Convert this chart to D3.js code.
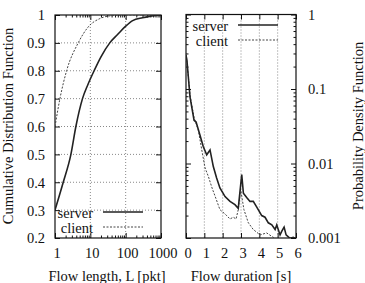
<!DOCTYPE html>
<html>
<head>
<meta charset="utf-8">
<script src="https://cdn.jsdelivr.net/npm/d3@7"></script>
<style>
body { margin: 0; background: #fff; }
text { font-family: "Liberation Serif", "Times New Roman", serif; fill: #111; }
</style>
</head>
<body>
<div id="chart"></div>
<script>
var w = 365, h = 283;
var fs = "14.5px";
var ff = "'Liberation Serif', 'Times New Roman', serif";

// left panel: CDF of flow length
var lenTicks = [1, 10, 100, 1000];
var lenTickLabels = ["1", "10", "100", "1000"];
var cdfTicks = [0.2, 0.3, 0.4, 0.5, 0.6, 0.7, 0.8, 0.9, 1];
var cdfTickLabels = ["0.2", "0.3", "0.4", "0.5", "0.6", "0.7", "0.8", "0.9", "1"];
var serverLen = [1, 1.71, 2.82, 3.9, 6, 8.5, 12.8, 20, 35.5, 59, 100, 158, 300, 472, 1000];
var serverCdf = [0.3, 0.4, 0.5, 0.6, 0.7, 0.75, 0.8, 0.85, 0.9, 0.93, 0.96, 0.98, 0.99, 0.995, 1.0];
var clientLen = [1, 1.38, 2.13, 4.54, 8.7, 18.5, 43, 100, 1000];
var clientCdf = [0.6, 0.7, 0.8, 0.9, 0.957, 0.987, 0.998, 1.0, 1.0];

// right panel: PDF of flow duration
var durTicks = [0, 1, 2, 3, 4, 5, 6];
var durTickLabels = ["0", "1", "2", "3", "4", "5", "6"];
var pdfTicks = [0.001, 0.01, 0.1, 1];
var pdfTickLabels = ["0.001", "0.01", "0.1", "1"];
var serverDur = [0, 0.05, 0.22, 0.44, 0.55, 0.76, 0.94, 1.13, 1.31, 1.49, 1.67, 1.85, 2.13, 2.4, 2.67, 2.85, 3.04, 3.13, 3.31, 3.49, 3.67, 3.86, 4.13, 4.31, 4.49, 4.68, 4.86, 4.95, 5.13, 5.22, 5.35, 5.46, 5.67, 5.85, 6];
var serverPdf = [0.285, 0.245, 0.078, 0.038, 0.036, 0.0242, 0.0169, 0.0131, 0.0152, 0.0091, 0.0064, 0.0047, 0.0036, 0.0031, 0.0028, 0.0025, 0.0071, 0.004, 0.0035, 0.0031, 0.0031, 0.0026, 0.002, 0.0019, 0.0016, 0.0015, 0.0013, 0.0015, 0.0011, 0.00123, 0.0014, 0.0011, 0.00099, 0.00102, 0.00098];
var clientDur = [0, 0.05, 0.22, 0.44, 0.67, 0.86, 1.04, 1.22, 1.42, 1.65, 1.85, 2.13, 2.4, 2.58, 2.73, 2.85, 2.98, 3.16, 3.4, 3.67, 4.04, 4.4, 4.68, 4.86, 5.0];
var clientPdf = [0.3, 0.23, 0.083, 0.041, 0.0283, 0.0152, 0.0087, 0.0067, 0.0047, 0.0033, 0.0024, 0.0021, 0.0018, 0.0019, 0.0018, 0.0024, 0.0045, 0.0024, 0.0016, 0.0013, 0.0011, 0.00117, 0.00105, 0.00099, 0.0009];

var svg = d3.select("#chart")
    .append("svg")
    .attr("width", w)
    .attr("height", h);

var xL = d3.scaleLog().domain([1, 1000]).range([55, 161]);
var yL = d3.scaleLinear().domain([0.2, 1]).range([238, 15]);
var xR = d3.scaleLinear().domain([0, 6]).range([186, 296]);
var yR = d3.scaleLog().domain([0.001, 1]).range([238, 14.5]);

function minorLog(lo, hi) {
    var out = [];
    for (var dec = lo; dec < hi; dec *= 10)
	for (var k = 2; k <= 9; k++) out.push(dec * k);
    return out;
}

function plain(g) {
    g.select(".domain").remove();
    g.selectAll(".tick line").attr("stroke", "#111");
    g.attr("font-family", null).attr("font-size", null);
    g.selectAll(".tick text")
	.style("font-family", ff)
	.style("font-size", fs)
	.attr("fill", "#111");
}

var clip = svg.append("defs");
clip.append("clipPath").attr("id", "clipL").append("rect")
    .attr("x", 55).attr("y", 15).attr("width", 106).attr("height", 223);
clip.append("clipPath").attr("id", "clipR").append("rect")
    .attr("x", 186).attr("y", 14.5).attr("width", 110).attr("height", 223.5);

// grid
var grid = svg.append("g")
    .attr("stroke", "#888")
    .attr("stroke-dasharray", "1,2")
    .attr("stroke-width", 1);
grid.selectAll(".hl").data(cdfTicks.slice(1, -1)).enter().append("line")
    .attr("x1", 55).attr("x2", 161)
    .attr("y1", function(d) { return yL(d); }).attr("y2", function(d) { return yL(d); });
grid.selectAll(".vl").data(lenTicks.slice(1, -1)).enter().append("line")
    .attr("y1", 15).attr("y2", 238)
    .attr("x1", function(d) { return xL(d); }).attr("x2", function(d) { return xL(d); });
grid.selectAll(".vr").data(durTicks.slice(1, -1)).enter().append("line")
    .attr("y1", 14.5).attr("y2", 238)
    .attr("x1", function(d) { return xR(d); }).attr("x2", function(d) { return xR(d); });

// left panel axes
svg.append("g")
    .attr("transform", "translate(0,238)")
    .call(d3.axisBottom(xL).tickValues(lenTicks).tickSize(-5)
	  .tickFormat(function(d, i) { return lenTickLabels[i]; }))
    .call(plain)
    .call(function(g) {
	g.selectAll(".tick text").attr("y", 20).attr("dy", 0).attr("dx", 1.5);
    });
svg.append("g")
    .attr("transform", "translate(0,238)")
    .call(d3.axisBottom(xL).tickValues(minorLog(1, 1000)).tickSize(-2.5).tickFormat(""))
    .call(plain);
svg.append("g")
    .attr("transform", "translate(0,15)")
    .call(d3.axisTop(xL).tickValues(lenTicks).tickSize(-5).tickFormat(""))
    .call(plain);
svg.append("g")
    .attr("transform", "translate(0,15)")
    .call(d3.axisTop(xL).tickValues(minorLog(1, 1000)).tickSize(-2.5).tickFormat(""))
    .call(plain);
svg.append("g")
    .attr("transform", "translate(55,0)")
    .call(d3.axisLeft(yL).tickValues(cdfTicks).tickSize(-5).tickPadding(10)
	  .tickFormat(function(d, i) { return cdfTickLabels[i]; }))
    .call(plain)
    .call(function(g) { g.selectAll(".tick text").attr("dy", "0.34em"); });
svg.append("g")
    .attr("transform", "translate(161,0)")
    .call(d3.axisRight(yL).tickValues(cdfTicks).tickSize(-5).tickFormat(""))
    .call(plain);

// right panel axes
svg.append("g")
    .attr("transform", "translate(0,238)")
    .call(d3.axisBottom(xR).tickValues(durTicks).tickSize(-5)
	  .tickFormat(function(d, i) { return durTickLabels[i]; }))
    .call(plain)
    .call(function(g) {
	g.selectAll(".tick text").attr("y", 20).attr("dy", 0).attr("dx", 1.5);
    });
svg.append("g")
    .attr("transform", "translate(0,14.5)")
    .call(d3.axisTop(xR).tickValues(durTicks).tickSize(-5).tickFormat(""))
    .call(plain);
svg.append("g")
    .attr("transform", "translate(296,0)")
    .call(d3.axisRight(yR).tickValues(pdfTicks).tickSize(-5).tickPadding(12)
	  .tickFormat(function(d, i) { return pdfTickLabels[i]; }))
    .call(plain)
    .call(function(g) { g.selectAll(".tick text").attr("dy", "0.34em"); });
svg.append("g")
    .attr("transform", "translate(296,0)")
    .call(d3.axisRight(yR).tickValues(minorLog(0.001, 1)).tickSize(-2.5).tickFormat(""))
    .call(plain);
svg.append("g")
    .attr("transform", "translate(186,0)")
    .call(d3.axisLeft(yR).tickValues(pdfTicks).tickSize(-5).tickFormat(""))
    .call(plain);
svg.append("g")
    .attr("transform", "translate(186,0)")
    .call(d3.axisLeft(yR).tickValues(minorLog(0.001, 1)).tickSize(-2.5).tickFormat(""))
    .call(plain);

// frames
svg.append("rect").attr("x", 55).attr("y", 15).attr("width", 106).attr("height", 223)
    .attr("fill", "none").attr("stroke", "#111").attr("stroke-width", 1.2);
svg.append("rect").attr("x", 186).attr("y", 14.5).attr("width", 110).attr("height", 223.5)
    .attr("fill", "none").attr("stroke", "#111").attr("stroke-width", 1.2);

// curves
var lineL = d3.line()
    .x(function(d) { return xL(d[0]); })
    .y(function(d) { return yL(d[1]); })
    .curve(d3.curveMonotoneX);
var lineR = d3.line()
    .x(function(d) { return xR(d[0]); })
    .y(function(d) { return yR(d[1]); });

var pl = svg.append("g").attr("clip-path", "url(#clipL)").attr("fill", "none");
pl.append("path")
    .attr("d", lineL(d3.zip(clientLen, clientCdf)))
    .attr("stroke", "#444").attr("stroke-width", 1).attr("stroke-dasharray", "2,1.5");
pl.append("path")
    .attr("d", lineL(d3.zip(serverLen, serverCdf)))
    .attr("stroke", "#222").attr("stroke-width", 1.6);

var pr = svg.append("g").attr("clip-path", "url(#clipR)").attr("fill", "none");
pr.append("path")
    .attr("d", lineR(d3.zip(clientDur, clientPdf)))
    .attr("stroke", "#444").attr("stroke-width", 1).attr("stroke-dasharray", "2,1.5");
pr.append("path")
    .attr("d", lineR(d3.zip(serverDur, serverPdf)))
    .attr("stroke", "#222").attr("stroke-width", 1.6);

// legends
function legend(xText, x1, x2, ybase) {
    var g = svg.append("g").style("font-size", fs).style("font-family", ff);
    g.append("text").attr("x", xText).attr("y", ybase).attr("text-anchor", "end").text("server");
    g.append("line").attr("x1", x1).attr("x2", x2).attr("y1", ybase - 6).attr("y2", ybase - 6)
	.attr("stroke", "#222").attr("stroke-width", 1.6);
    g.append("text").attr("x", xText).attr("y", ybase + 15).attr("text-anchor", "end").text("client");
    g.append("line").attr("x1", x1).attr("x2", x2).attr("y1", ybase + 9).attr("y2", ybase + 9)
	.attr("stroke", "#444").attr("stroke-width", 1).attr("stroke-dasharray", "2,1.5");
}
legend(93, 103, 143, 218);
legend(228, 238, 278, 31);

// axis titles
var titles = svg.append("g").style("font-size", fs).style("font-family", ff);
titles.append("text").attr("x", 107).attr("y", 281).attr("text-anchor", "middle")
    .text("Flow length, L [pkt]");
titles.append("text").attr("x", 241).attr("y", 281).attr("text-anchor", "middle")
    .text("Flow duration [s]");
titles.append("text").attr("transform", "translate(13,126) rotate(-90)").attr("text-anchor", "middle")
    .text("Cumulative Distribution Function");
titles.append("text").attr("transform", "translate(363,126) rotate(-90)").attr("text-anchor", "middle")
    .text("Probability Density Function");
</script>
</body>
</html>
